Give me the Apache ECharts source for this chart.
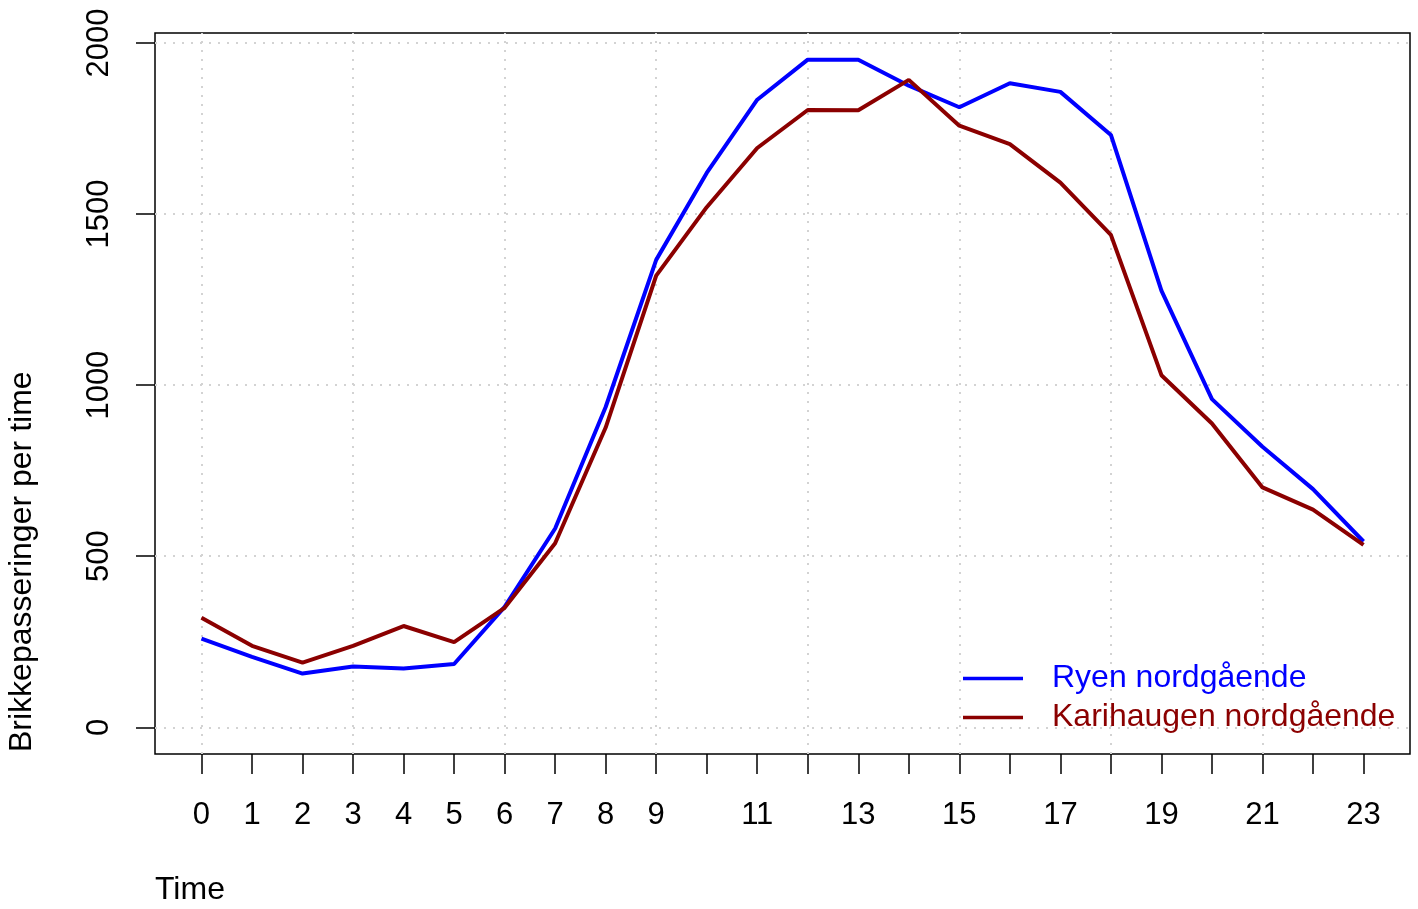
<!DOCTYPE html>
<html>
<head>
<meta charset="utf-8">
<script src="https://cdn.jsdelivr.net/npm/echarts@6/dist/echarts.min.js"></script>
<style>
html,body{margin:0;padding:0;background:#fff;}
#chart{width:1418px;height:909px;}
</style>
</head>
<body>
<div id="chart"></div>
<script>
// ---- data ----
var hours = [0,1,2,3,4,5,6,7,8,9,10,11,12,13,14,15,16,17,18,19,20,21,22,23];
var ryen = [259,206,157,178,172,185,352,581,936,1366,1620,1834,1951,1951,1875,1812,1882,1857,1731,1276,959,820,696,543];
var karihaugen = [320,238,189,238,296,249,349,538,876,1320,1520,1693,1804,1803,1892,1758,1704,1592,1439,1029,888,701,636,533];
var seriesNames = ['Ryen nordgående','Karihaugen nordgående'];
var xTickValues = [0,1,2,3,4,5,6,7,8,9,10,11,12,13,14,15,16,17,18,19,20,21,22,23];
var xLabelValues = [0,1,2,3,4,5,6,7,8,9,11,13,15,17,19,21,23];
var yTickValues = [0,500,1000,1500,2000];
var xGridValues = [0,3,6,9,12,15,18,21];
var yGridValues = [0,500,1000,1500,2000];
var xTitle = 'Time';
var yTitle = 'Brikkepasseringer per time';

var FONT = '"Liberation Sans", Arial, Helvetica, sans-serif';
var FS = 31;
var FS2 = 32;
var BLUE = '#0000FF', RED = '#8B0000';

function pairs(vals){ return hours.map(function(h,i){ return [h, vals[i]]; }); }

var gridLines = {
  silent: true,
  z: 1,
  symbol: ['none','none'],
  label: {show:false},
  lineStyle: {color:'#d3d3d3', type:[2,7], width:2},
  emphasis: {disabled:true},
  data: xGridValues.map(function(v){return {xAxis:v};}).concat(
        yGridValues.map(function(v){return {yAxis:v};}))
};

var chart = echarts.init(document.getElementById('chart'), null, {renderer:'canvas'});
chart.setOption({
  animation: false,
  backgroundColor: '#fff',
  grid: {left:155, right:8, top:33, bottom:155, show:true, borderColor:'#000', borderWidth:1.5, backgroundColor:'transparent'},
  xAxis: {
    type:'value', min:-0.92, max:23.92,
    axisLine:{show:false, onZero:false},
    splitLine:{show:false},
    axisTick:{show:true, length:20, inside:false, customValues:xTickValues, lineStyle:{color:'#000', width:1.5}},
    axisLabel:{show:true, customValues:xLabelValues, margin:46, fontSize:FS, fontFamily:FONT, color:'#000',
               formatter:function(v){return String(v);}}
  },
  yAxis: {
    type:'value', min:-78, max:2029,
    axisLine:{show:false, onZero:false},
    splitLine:{show:false},
    axisTick:{show:true, length:19, inside:false, customValues:yTickValues, lineStyle:{color:'#000', width:1.5}},
    axisLabel:{show:true, customValues:yTickValues, rotate:90, margin:40, fontSize:FS, fontFamily:FONT, color:'#000',
               formatter:function(v){return String(v);}}
  },
  legend: {
    orient:'vertical', left:963, top:662.5, padding:0,
    icon:'rect', itemWidth:60, itemHeight:3.5, itemGap:7,
    data:[
      {name:seriesNames[0], textStyle:{color:BLUE}},
      {name:seriesNames[1], textStyle:{color:RED}}
    ],
    textStyle:{fontSize:FS2, fontFamily:FONT, padding:[0,0,0,24]}
  },
  series: [
    {name:'grid', type:'line', data:[], symbol:'none', z:1, silent:true, markLine:gridLines},
    {name:seriesNames[0], type:'line', data:pairs(ryen), symbol:'none', lineStyle:{color:BLUE, width:4}, itemStyle:{color:BLUE}, z:3},
    {name:seriesNames[1], type:'line', data:pairs(karihaugen), symbol:'none', lineStyle:{color:RED, width:4}, itemStyle:{color:RED}, z:4}
  ],
  graphic: [
    {type:'text', left:155, top:874, style:{text:xTitle, fontSize:FS2, fontFamily:FONT, fill:'#000'}},
    {type:'text', x:22, y:752, rotation:Math.PI/2, style:{text:yTitle, fontSize:FS2, fontFamily:FONT, fill:'#000', textAlign:'left', textVerticalAlign:'middle'}}
  ]
});
</script>
</body>
</html>
